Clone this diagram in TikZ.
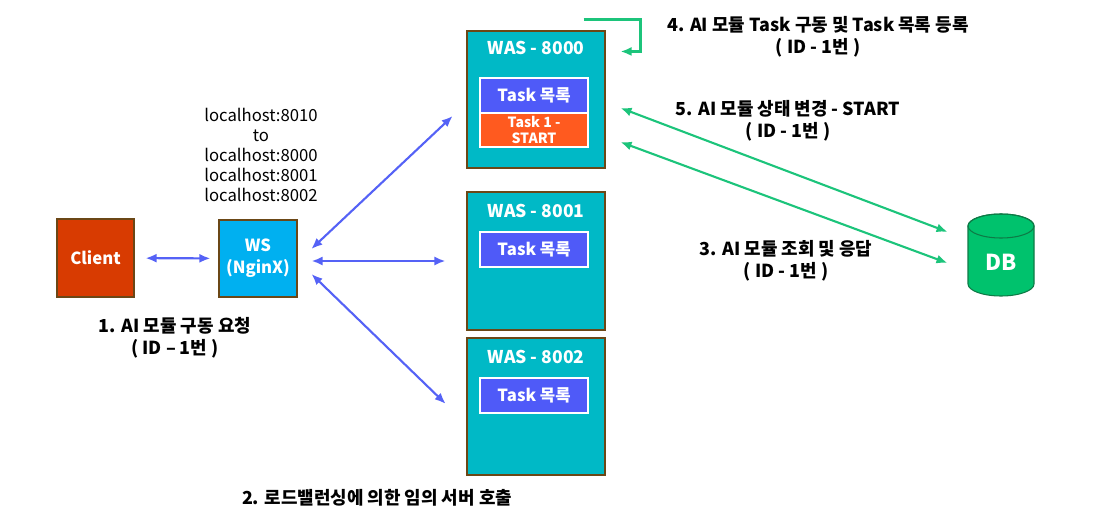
\documentclass[tikz,border=0pt]{standalone}
\usepackage{fontspec}
\setmainfont{Noto Sans CJK KR}
\usetikzlibrary{arrows.meta}
\definecolor{clientred}{HTML}{D83B01}
\definecolor{wsblue}{HTML}{00B0F0}
\definecolor{wasteal}{HTML}{00B9C6}
\definecolor{taskblue}{HTML}{4F5AF8}
\definecolor{startorange}{HTML}{FF5A1F}
\definecolor{boxedge}{HTML}{6B4716}
\definecolor{linkblue}{HTML}{5562F6}
\definecolor{dbgreen}{HTML}{00C26D}
\definecolor{dbedge}{HTML}{0E7A46}
\definecolor{linkgreen}{HTML}{1CC47B}
\tikzset{
	box/.style={draw=boxedge, line width=0.6pt, inner sep=0pt, text=white, align=center, font=\bfseries\fontsize{9.5}{12.5}\selectfont},
	was/.style={box, fill=wasteal, minimum width=27.6mm},
	tasklist/.style={draw=white, line width=1.2pt, fill=taskblue, minimum width=21.6mm, minimum height=7mm, inner sep=0pt, text=white, font=\bfseries\fontsize{9.5}{11}\selectfont},
	title/.style={text=white, inner sep=0pt, font=\bfseries\fontsize{10}{12}\selectfont},
	note/.style={align=center, inner sep=0pt, font=\bfseries\fontsize{10.2}{12.5}\selectfont},
	bluelink/.style={<->, draw=linkblue, line width=1.2pt},
	greenlink/.style={draw=linkgreen, line width=1.2pt}
}
\begin{document}
\begin{tikzpicture}[x=0.2mm,y=-0.2mm,>={Latex[length=2.2mm,width=1.8mm]}]
	\useasboundingbox (0,0) rectangle (1100,516);
	\path
	(95.5,258)  node[box,fill=clientred,minimum width=15.4mm,minimum height=15.6mm] (client) {Client}
	(258,258.5) node[box,fill=wsblue,minimum width=15.6mm,minimum height=15.4mm] (ws) {WS\\(NginX)}
	(261,155)   node[align=center,inner sep=0pt,font=\fontsize{9.5}{11.4}\selectfont] (hosts) {localhost:8010\\to\\localhost:8000\\localhost:8001\\localhost:8002}
	(175,338)   node[note] (step1) {1. AI 모듈 구동 요청\\( ID – 1번 )}
	(377,498)   node[note] (step2) {2. 로드밸런싱에 의한 임의 서버 호출};
	% WAS servers
	\path
	(536,99.5)  node[was,minimum height=27.4mm] (w0) {}
	(536,261)   node[was,minimum height=27.6mm] (w1) {}
	(536,406.5) node[was,minimum height=27.4mm] (w2) {}
	(536,48)    node[title] {WAS - 8000}
	(536,211)   node[title] {WAS - 8001}
	(536,357)   node[title] {WAS - 8002}
	(534,95.5)  node[tasklist] (t0) {Task 목록}
	(534,130)   node[tasklist,fill=startorange,minimum height=6.8mm,align=center,font=\bfseries\fontsize{8}{9.6}\selectfont] (s0) {Task 1 -\\START}
	(534,249.5) node[tasklist] (t1) {Task 목록}
	(534,395.5) node[tasklist] (t2) {Task 목록};
	% DB
	\filldraw[fill=dbgreen,draw=dbedge,line width=0.6pt] (968,226) -- (968,284)
	arc[start angle=180,end angle=360,x radius=6.6mm,y radius=2.4mm] -- (1034,226)
	arc[start angle=0,end angle=180,x radius=6.6mm,y radius=2.4mm] -- cycle;
	\draw[dbedge,line width=0.6pt] (1001,226) ellipse[x radius=6.6mm,y radius=2.4mm];
	\path (1001,262) node[minimum width=13.2mm,minimum height=16.4mm,inner sep=0pt,text=white,font=\bfseries\fontsize{12.5}{14}\selectfont] (db) {DB};
	% labels
	\path
	(818,37)  node[note] (step4) {4. AI 모듈 Task 구동 및 Task 목록 등록\\( ID - 1번 )}
	(788,121) node[note] (step5) {5. AI 모듈 상태 변경 - START\\( ID - 1번 )}
	(786,261) node[note] (step3) {3. AI 모듈 조회 및 응답\\( ID - 1번 )};
	% links
	\draw[bluelink,shorten <=2.2mm,shorten >=1.6mm] (client) -- (ws);
	\draw[bluelink,shorten <=3.8mm,shorten >=3.8mm] ([yshift=-0.7mm]ws.east) -- ([yshift=-0.7mm]w0.west);
	\draw[bluelink,shorten <=2.8mm,shorten >=4.2mm] (ws.east |- w1.west) -- (w1.west);
	\draw[bluelink,shorten <=3.9mm,shorten >=5.8mm] ([yshift=-0.4mm]ws.east) -- ([yshift=-3.5mm]w2.west);
	\draw[greenlink,->] ([shift={(-4.4mm,2.2mm)}]w0.north east) -- ++(11.4mm,0) |- ([shift={(3mm,-4.2mm)}]w0.north east);
	\draw[greenlink,<->,shorten <=3.2mm,shorten >=4.3mm] ([yshift=-0.56mm]w0.east) -- ([yshift=4.5mm]db.west);
	\draw[greenlink,<->,shorten <=3.2mm,shorten >=4.3mm] ([yshift=-7.4mm]w0.east) -- ([yshift=-1.7mm]db.west);
\end{tikzpicture}
\end{document}
